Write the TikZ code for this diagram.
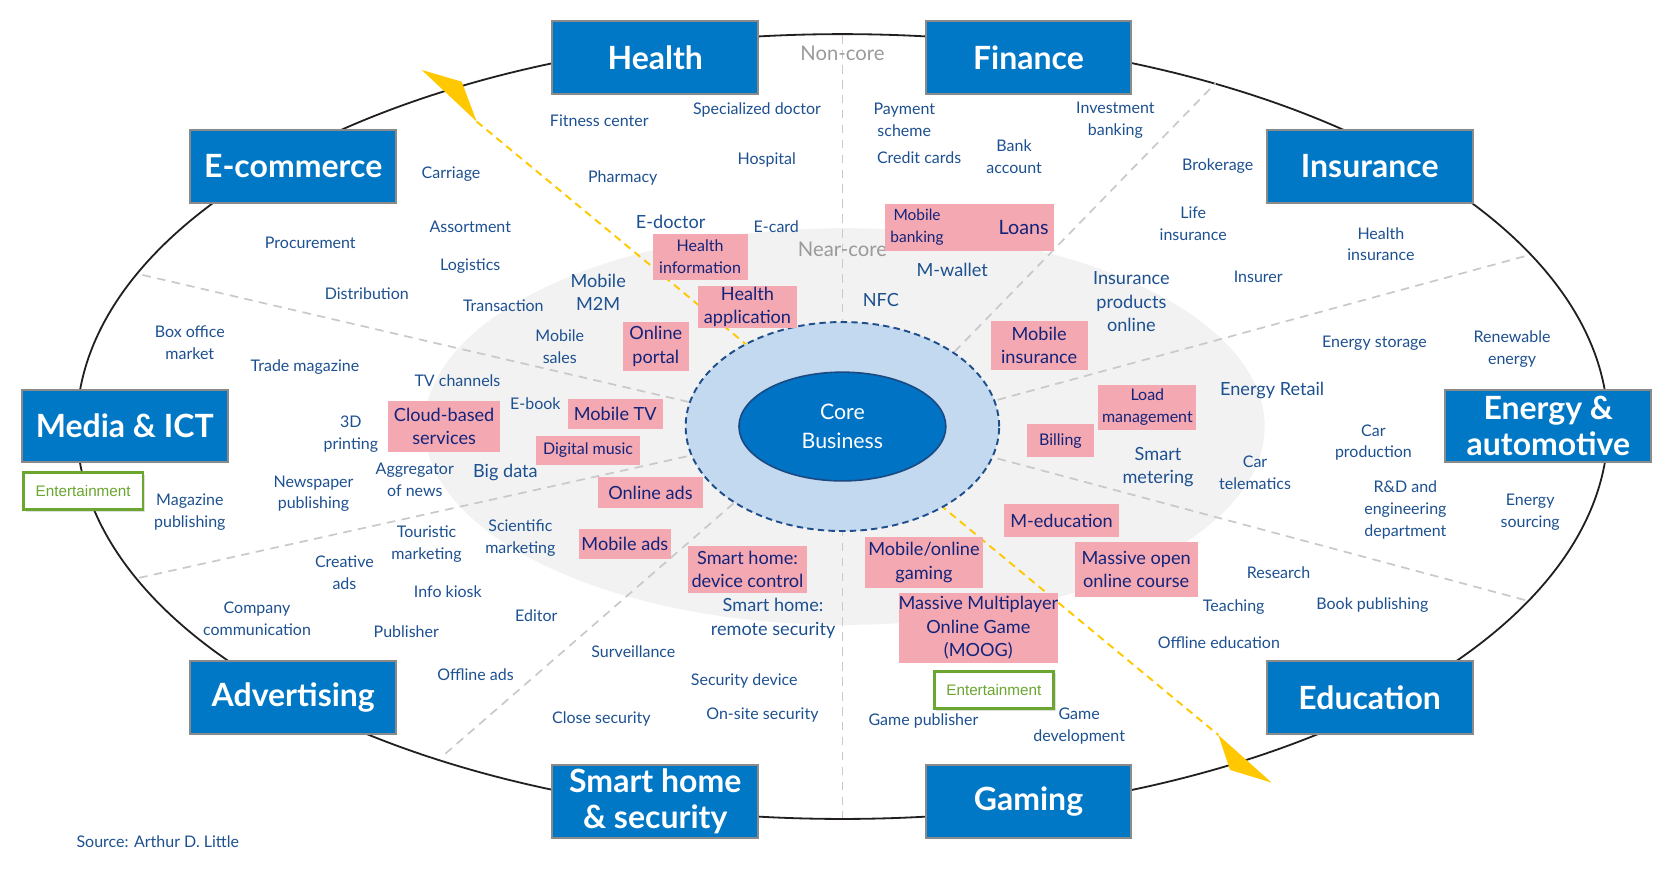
\documentclass[tikz,border=0pt]{standalone}
\usepackage{fontspec}
\setmainfont{Lato}
\newfontfamily\arialf{Liberation Sans}
\usetikzlibrary{shapes.geometric,shadows}
\definecolor{catblue}{HTML}{0078C6}
\definecolor{catborder}{HTML}{8A8A8A}
\definecolor{itemblue}{HTML}{1D5090}
\definecolor{pinkfill}{HTML}{F3A8B2}
\definecolor{navy}{HTML}{13237A}
\definecolor{dashgray}{HTML}{C9C9C9}
\definecolor{nearcore}{HTML}{F2F2F2}
\definecolor{ringfill}{HTML}{C3D9F0}
\definecolor{ringborder}{HTML}{1F4E8A}
\definecolor{coreblue}{HTML}{0073C4}
\definecolor{coreborder}{HTML}{1B4A82}
\definecolor{ygold}{HTML}{FFC800}
\definecolor{entgreen}{HTML}{6BA630}
\definecolor{labelgray}{HTML}{9A9A9A}
\definecolor{outline}{HTML}{231F20}
\begin{document}
\begin{tikzpicture}[x=1pt,y=-1pt,
  cat/.style={draw=catborder, line width=1.8pt, fill=catblue, text=white,
    font=\fontsize{30}{34}\selectfont\bfseries, align=center,
    minimum width=193pt, minimum height=68pt, inner sep=0pt},
  item/.style={text=itemblue, font=\fontsize{15}{20.5}\selectfont, align=center, inner sep=0pt},
  itemm/.style={item, font=\fontsize{17}{22}\selectfont},
  pinkbox/.style={fill=pinkfill, text=navy, align=center, inner sep=0pt, font=\fontsize{17}{22}\selectfont},
  pinks/.style={pinkbox, font=\fontsize{15}{20.5}\selectfont},
  pinktext/.style={text=navy, align=center, inner sep=0pt},
  ent/.style={draw=entgreen, line width=2.6pt, fill=white, text=entgreen,
    font=\arialf\fontsize{14.3}{17}\selectfont, minimum width=112pt, minimum height=35pt, inner sep=0pt,
    drop shadow={opacity=0.25, shadow xshift=2pt, shadow yshift=-2pt}},
  zonelabel/.style={text=labelgray, font=\fontsize{19}{22}\selectfont, inner sep=0pt},
  sectorline/.style={draw=dashgray, line width=1.6pt, dash pattern=on 8pt off 6pt},
  yline/.style={draw=ygold, line width=1.8pt, dash pattern=on 7pt off 5pt}
]
\useasboundingbox (0,0) rectangle (1568,832);

% outer ellipse and near-core zone
\draw[outline, line width=1.7pt] (790,400) ellipse [x radius=718, y radius=368];
\fill[nearcore] (792,400) ellipse [x radius=394, y radius=186];

% sector lines
\coordinate (vtop) at (790,33);
\coordinate (vbot) at (790,767);
\coordinate (urin) at (895,330);   \coordinate (urout) at (1140,78);
\coordinate (ruin) at (935.5,375); \coordinate (ruout) at (1431,240);
\coordinate (rlin) at (935.5,430); \coordinate (rlout) at (1431,563);
\coordinate (llin) at (688,472);   \coordinate (llout) at (414,710);
\coordinate (lbin) at (644,428);   \coordinate (lbout) at (130,542);
\coordinate (luin) at (646,377);   \coordinate (luout) at (130,257);
\draw[sectorline] (vtop) -- (vbot);
\draw[sectorline] (urin) -- (urout);
\draw[sectorline] (ruin) -- (ruout);
\draw[sectorline] (rlin) -- (rlout);
\draw[sectorline] (llin) -- (llout);
\draw[sectorline] (lbin) -- (lbout);
\draw[sectorline] (luin) -- (luout);

% yellow axis
\coordinate (ytl) at (447,114);
\coordinate (ybr) at (1142.6,689.3);
\draw[yline] (ytl) -- (ybr);
\fill[ygold] (ytl) -- (433,76.6) -- (395.5,65.6) -- cycle;
\fill[ygold] (ybr) -- (1153.5,722) -- (1192.6,734) -- cycle;

% core rings
\node[ellipse, draw=ringborder, fill=ringfill, line width=1.8pt, dash pattern=on 6pt off 4pt,
  minimum width=294pt, minimum height=196pt, inner sep=0pt] (ring) at (790,400) {};
\node[ellipse, draw=coreborder, fill=coreblue, line width=1.5pt, text=white, align=center,
  font=\fontsize{20}{27}\selectfont, minimum width=194pt, minimum height=102pt, inner sep=0pt] (core) at (790,400) {Core\\Business};

% zone labels
\node[zonelabel] (noncore) at (790,50) {Non-core};
\node[zonelabel] (nearcorelbl) at (790,234) {Near-core};

% category boxes
\node[cat] (health) at (614.5,54) {Health};
\node[cat] (finance) at (964.5,54) {Finance};
\node[cat] (ecommerce) at (275,156) {E-commerce};
\node[cat] (insurance) at (1284.5,156) {Insurance};
\node[cat] (media) at (117,399.5) {Media \& ICT};
\node[cat] (energy) at (1452,399.5) {Energy \&\\automotive};
\node[cat] (advertising) at (275,654) {Advertising};
\node[cat] (education) at (1284.5,654) {Education};
\node[cat] (smarthome) at (614.5,751.5) {Smart home\\\& security};
\node[cat] (gaming) at (964.5,751.5) {Gaming};

\node[ent] (entleft) at (78,460.5) {Entertainment};
\node[ent] (entbottom) at (932,647) {Entertainment};

% Health
\node[item] (fitness) at (562,113) {Fitness center};
\node[item] (specdoc) at (710,103) {Specialized doctor};
\node[item] (hospital) at (719,150) {Hospital};
\node[item] (pharmacy) at (584,167) {Pharmacy};
\node[itemm] (edoctor) at (629,208) {E-doctor};
\node[item] (ecard) at (728,213) {E-card};
\node[pinks, minimum width=89pt, minimum height=43pt] (healthinfo) at (656.5,241) {Health\\information};
\node[pinkbox, minimum width=92pt, minimum height=40pt] (healthapp) at (701,288) {Health\\application};
\node[itemm] (m2m) at (561,274) {Mobile\\M2M};
\node[pinkbox, minimum width=62pt, minimum height=46pt] (portal) at (615,325) {Online\\portal};

% E-commerce
\node[item] (mobsales) at (525,325) {Mobile\\sales};
\node[item] (transaction) at (472,287) {Transaction};
\node[item] (logistics) at (441,250) {Logistics};
\node[item] (assortment) at (441,213) {Assortment};
\node[item] (carriage) at (423,163) {Carriage};
\node[item] (procurement) at (291,228) {Procurement};
\node[item] (distribution) at (344,275) {Distribution};

% Media & ICT
\node[item] (boxoffice) at (178,321) {Box office\\market};
\node[item] (trademag) at (286,344) {Trade magazine};
\node[item] (tvchannels) at (429,357) {TV channels};
\node[item] (ebook) at (502,379) {E-book};
\node[pinkbox, minimum width=105pt, minimum height=48pt] (cloud) at (416.5,400) {Cloud-based\\services};
\node[pinkbox, minimum width=89pt, minimum height=28pt] (mobiletv) at (577,388) {Mobile TV};
\node[pinks, minimum width=97pt, minimum height=28pt] (digmusic) at (551.5,422.5) {Digital music};
\node[item] (printing) at (329,407) {3D\\printing};
\node[item] (aggregator) at (389,450) {Aggregator\\of news};
\node[itemm] (bigdata) at (474,443) {Big data};
\node[item] (newspaper) at (294,463) {Newspaper\\publishing};
\node[item] (magazine) at (178,480) {Magazine\\publishing};
\node[pinkbox, minimum width=98pt, minimum height=29pt] (onlineads) at (610,462) {Online ads};

% Advertising
\node[item] (touristic) at (400,510) {Touristic\\marketing};
\node[item] (scientific) at (488,505) {Scientific\\marketing};
\node[item] (creative) at (323,537) {Creative\\ads};
\node[pinkbox, minimum width=86pt, minimum height=28pt] (mobileads) at (586,510) {Mobile ads};
\node[item] (infokiosk) at (420,555) {Info kiosk};
\node[item] (editor) at (503,577) {Editor};
\node[item] (company) at (241,580) {Company\\communication};
\node[item] (publisher) at (381,592) {Publisher};
\node[item] (offlineads) at (446,633) {Offline ads};

% Smart home & security
\node[pinkbox, minimum width=112pt, minimum height=44pt] (devctrl) at (701,534) {Smart home:\\device control};
\node[itemm] (remote) at (725,580) {Smart home:\\remote security};
\node[item] (surveillance) at (594,611) {Surveillance};
\node[item] (secdevice) at (698,639) {Security device};
\node[item] (closesec) at (564,674) {Close security};
\node[item] (onsite) at (715,671) {On-site security};

% Gaming
\node[pinkbox, minimum width=111pt, minimum height=47pt] (mobgaming) at (866.5,527.5) {Mobile/online\\gaming};
\node[pinkbox, minimum width=149pt, minimum height=66pt] (moog) at (917.5,589) {Massive Multiplayer\\Online Game\\(MOOG)};
\node[item] (gamepub) at (866,676) {Game publisher};
\node[item] (gamedev) at (1012,681) {Game\\development};

% Education
\node[pinkbox, minimum width=107pt, minimum height=31pt] (meducation) at (995.5,488.5) {M-education};
\node[pinkbox, minimum width=115pt, minimum height=52pt] (mooc) at (1065.5,534) {Massive open\\online course};
\node[item] (research) at (1199,537) {Research};
\node[item] (teaching) at (1157,569) {Teaching};
\node[item] (bookpub) at (1287,567) {Book publishing};
\node[item] (offlineedu) at (1143,603) {Offline education};

% Energy & automotive
\node[pinks, minimum width=92pt, minimum height=42pt] (loadmgmt) at (1076,382) {Load\\management};
\node[pinks, minimum width=63pt, minimum height=31pt] (billing) at (994.5,413.5) {Billing};
\node[itemm] (energyretail) at (1193,366) {Energy Retail};
\node[itemm] (smartmeter) at (1086,438) {Smart\\metering};
\node[item] (cartelem) at (1177,443) {Car\\telematics};
\node[item] (energystorage) at (1289,322) {Energy storage};
\node[item] (renewable) at (1418,327) {Renewable\\energy};
\node[item] (carprod) at (1288,415) {Car\\production};
\node[item] (rnd) at (1318,478) {R\&D and\\engineering\\department};
\node[item] (sourcing) at (1435,480) {Energy\\sourcing};

% Insurance
\node[item] (brokerage) at (1142,156) {Brokerage};
\node[item] (lifeins) at (1119,210) {Life\\insurance};
\node[item] (healthins) at (1295,229) {Health\\insurance};
\node[item] (insurer) at (1180,260) {Insurer};
\node[itemm] (insprod) at (1061,283) {Insurance\\products\\online};
\node[pinkbox, minimum width=91pt, minimum height=46pt] (mobileins) at (974.5,324) {Mobile\\insurance};

% Finance
\node[item] (payment) at (848,112) {Payment\\scheme};
\node[item] (creditcards) at (862,148) {Credit cards};
\node[item] (bankacct) at (951,147) {Bank\\account};
\node[item] (investment) at (1046,113) {Investment\\banking};
\node[pinkbox, minimum width=158pt, minimum height=44pt] (finbox) at (909,213) {};
\node[pinktext, font=\fontsize{14.5}{20}\selectfont] (mobbanking) at (860,213) {Mobile\\banking};
\node[pinktext, font=\fontsize{18.5}{22}\selectfont] (loans) at (960,213) {Loans};
\node[itemm] (mwallet) at (893,253) {M-wallet};
\node[itemm] (nfc) at (826,281) {NFC};

% source
\node[item] (source) at (148,789) {Source: Arthur D. Little};
\end{tikzpicture}
\end{document}
